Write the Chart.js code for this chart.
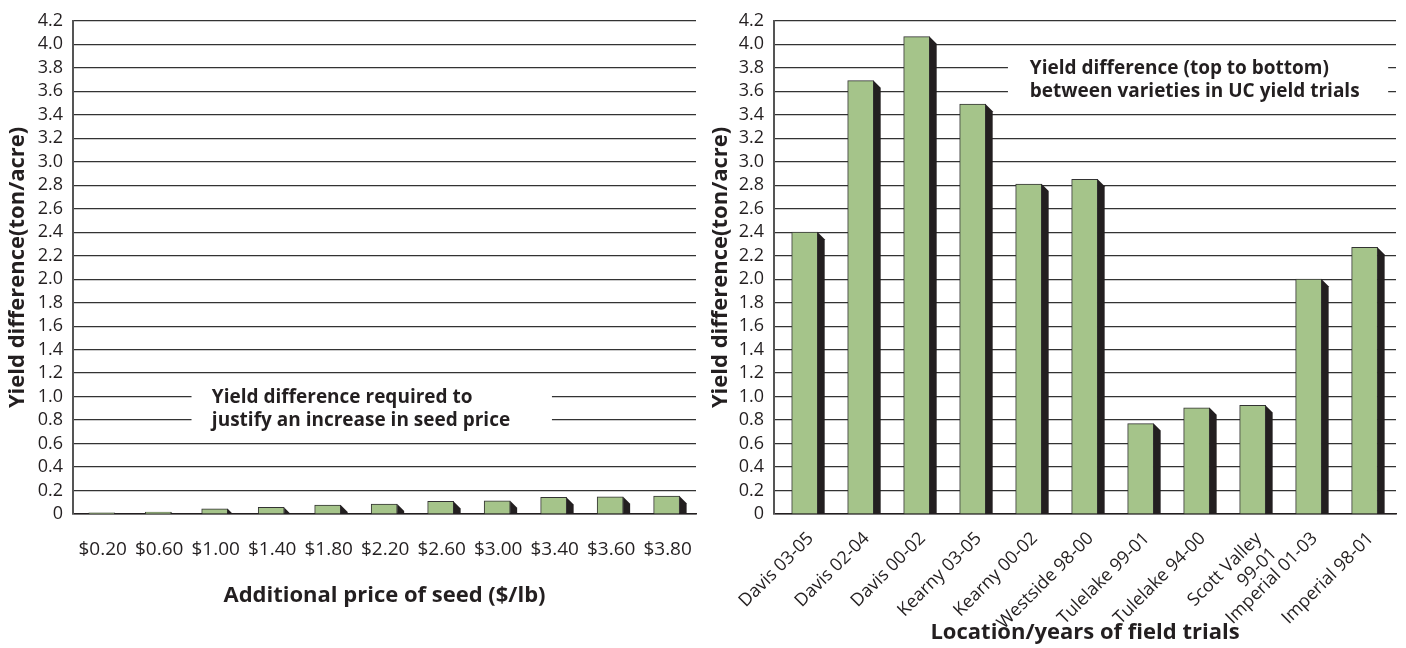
<!DOCTYPE html>
<html>
<head>
<meta charset="utf-8">
<script src="https://cdn.jsdelivr.net/npm/chart.js@4.4.1/dist/chart.umd.min.js"></script>
<style>
  body { margin: 0; background: #fff; }
  .box { position: absolute; top: 0; width: 703px; height: 648px; }
</style>
</head>
<body>
<div class="box" style="left:0"><canvas id="priceChart" width="703" height="648"></canvas></div>
<div class="box" style="left:703px"><canvas id="trialChart" width="703" height="648"></canvas></div>
<script>
// left panel: extra seed price vs yield needed to pay for it
const priceLabels = ['$0.20', '$0.60', '$1.00', '$1.40', '$1.80', '$2.20', '$2.60', '$3.00', '$3.40', '$3.60', '$3.80']
const priceYield = [0.011, 0.017, 0.045, 0.056, 0.076, 0.085, 0.107, 0.113, 0.141, 0.146, 0.152]

// right panel: UC yield trials
const trialLabels = ['Davis 03-05', 'Davis 02-04', 'Davis 00-02', 'Kearny 03-05', 'Kearny 00-02', 'Westside 98-00',
    'Tulelake 99-01', 'Tulelake 94-00', ['Scott Valley', '99-01'], 'Imperial 01-03', 'Imperial 98-01']
const trialYield = [2.40, 3.69, 4.065, 3.49, 2.81, 2.85, 0.77, 0.905, 0.925, 2.00, 2.27]

const yTicks = ['0', '0.2', '0.4', '0.6', '0.8', '1.0', '1.2', '1.4', '1.6', '1.8', '2.0',
    '2.2', '2.4', '2.6', '2.8', '3.0', '3.2', '3.4', '3.6', '3.8', '4.0', '4.2']

const ink = '#231f20'
const green = '#a5c48a'
const fontFamily = '"Open Sans", "Noto Sans", sans-serif'

const makeChart = (id, labels, values, o) => {
    // dark side face of each column, drawn from the bar elements
    const shadow = {
        id: 'shadow',
        afterDatasetsDraw(chart) {
            const ctx = chart.ctx
            ctx.save()
            ctx.fillStyle = ink
            chart.getDatasetMeta(0).data.forEach(bar => {
                const right = bar.x + bar.width / 2
                const d = Math.min(7, bar.base - bar.y)
                ctx.beginPath()
                ctx.moveTo(right, bar.y)
                ctx.lineTo(right + d, bar.y + d)
                ctx.lineTo(right + d, bar.base)
                ctx.lineTo(right, bar.base)
                ctx.closePath()
                ctx.fill()
            })
            ctx.restore()
        }
    }
    // text box laid over the grid
    const note = {
        id: 'note',
        beforeDatasetsDraw(chart) {
            const {ctx, scales: {x, y}} = chart
            const n = o.note
            const left = x.getPixelForValue(n.from)
            const right = x.getPixelForValue(n.to)
            const top = y.getPixelForValue(n.rows[0] + 0.1)
            const bottom = y.getPixelForValue(n.rows[1] - 0.1)
            ctx.save()
            ctx.fillStyle = '#fff'
            ctx.fillRect(left, top + 2, right - left, bottom - top - 4)
            ctx.fillStyle = ink
            ctx.font = 'bold 19px ' + fontFamily
            ctx.textBaseline = 'alphabetic'
            n.lines.forEach((line, i) => {
                ctx.fillText(line, x.getPixelForValue(n.textAt), y.getPixelForValue(n.rows[i]) + 6)
            })
            ctx.restore()
        }
    }

    return new Chart(document.getElementById(id), {
        type: 'bar',
        data: {
            datasets: [{
                data: values.map((v, i) => ({x: i, y: v})),
                backgroundColor: green,
                borderColor: '#333',
                borderWidth: 1,
                barThickness: 26
            }]
        },
        options: {
            responsive: false,
            animation: false,
            devicePixelRatio: 1,
            layout: {padding: {top: 17, right: o.padRight, bottom: 0, left: 0}},
            plugins: {legend: {display: false}, tooltip: {enabled: false}},
            scales: {
                x: {
                    type: 'linear',
                    offset: false,
                    min: o.xMin,
                    max: o.xMax,
                    afterBuildTicks: axis => { axis.ticks = labels.map((l, i) => ({value: i})) },
                    afterFit: axis => {
                        axis.height = 134
                        axis.paddingLeft = 0
                        axis.paddingRight = 0
                    },
                    grid: {display: false, drawTicks: false, offset: false},
                    border: {display: true, color: ink, width: 1.5},
                    ticks: {
                        autoSkip: false,
                        minRotation: o.rotate,
                        maxRotation: o.rotate,
                        padding: o.tickPad,
                        labelOffset: o.labelShift,
                        color: ink,
                        font: {family: fontFamily, size: o.tickSize},
                        callback: v => labels[v]
                    },
                    title: {
                        display: true,
                        text: o.xTitle,
                        color: ink,
                        font: {family: fontFamily, size: 22, weight: 'bold'},
                        padding: {top: 0, bottom: o.titlePad}
                    }
                },
                y: {
                    min: 0,
                    max: 4.2,
                    afterBuildTicks: axis => { axis.ticks = yTicks.map(t => ({value: Number(t)})) },
                    afterFit: axis => { axis.width = o.yWidth },
                    grid: {color: '#333', lineWidth: 1.2, drawTicks: false},
                    border: {display: true, color: '#555', width: 2},
                    ticks: {
                        autoSkip: false,
                        padding: 10,
                        color: ink,
                        font: {family: fontFamily, size: 18},
                        callback: (v, i) => yTicks[i]
                    },
                    title: {
                        display: true,
                        text: 'Yield difference(ton/acre)',
                        color: ink,
                        font: {family: fontFamily, size: 22, weight: 'bold'},
                        padding: {top: 5, bottom: 0}
                    }
                }
            }
        },
        plugins: [note, shadow]
    })
}

makeChart('priceChart', priceLabels, priceYield, {
    xMin: -0.508, xMax: 10.52, yWidth: 73, padRight: 7,
    rotate: 0, tickPad: 24, labelShift: 1, tickSize: 19, titlePad: 39,
    xTitle: 'Additional price of seed ($/lb)',
    note: {from: 1.59, to: 7.97, textAt: 1.95, rows: [1.0, 0.8],
        lines: ['Yield difference required to', 'justify an increase in seed price']}
})

makeChart('trialChart', trialLabels, trialYield, {
    xMin: -0.548, xMax: 10.56, yWidth: 71, padRight: 10,
    rotate: 45, tickPad: 14, labelShift: 6, tickSize: 18, titlePad: 2,
    xTitle: 'Location/years of field trials',
    note: {from: 3.63, to: 10.42, textAt: 4.02, rows: [3.8, 3.6],
        lines: ['Yield difference (top to bottom)', 'between varieties in UC yield trials']}
})
</script>
</body>
</html>
